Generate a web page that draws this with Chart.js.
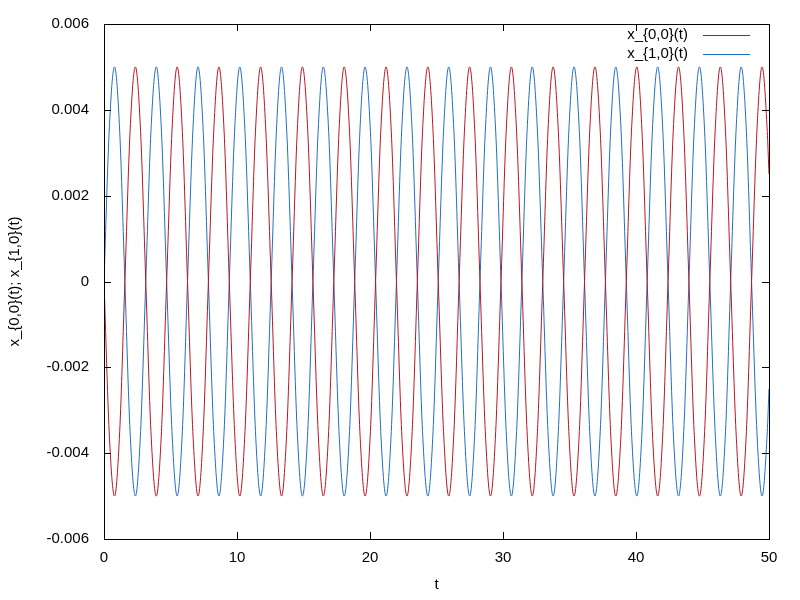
<!DOCTYPE html>
<html>
<head>
<meta charset="utf-8">
<script src="https://cdn.jsdelivr.net/npm/chart.js@4.4.0/dist/chart.umd.min.js"></script>
<style>
  html, body { margin: 0; padding: 0; background: #fff; }
  #wrap { width: 800px; height: 600px; }
</style>
</head>
<body>
<div id="wrap"><canvas id="plot" width="800" height="600"></canvas></div>
<script>
// sample times (t): zero crossings, peaks and the points between
var times = [
  0, 0.39, 0.79, 1.18, 1.57, 1.96, 2.36, 2.75,
  3.14, 3.53, 3.93, 4.32, 4.71, 5.11, 5.50, 5.89,
  6.28, 6.68, 7.07, 7.46, 7.85, 8.25, 8.64, 9.03,
  9.42, 9.82, 10.21, 10.60, 11.00, 11.39, 11.78, 12.17,
  12.57, 12.96, 13.35, 13.74, 14.14, 14.53, 14.92, 15.32,
  15.71, 16.10, 16.49, 16.89, 17.28, 17.67, 18.06, 18.46,
  18.85, 19.24, 19.63, 20.03, 20.42, 20.81, 21.21, 21.60,
  21.99, 22.38, 22.78, 23.17, 23.56, 23.95, 24.35, 24.74,
  25.13, 25.53, 25.92, 26.31, 26.70, 27.10, 27.49, 27.88,
  28.27, 28.67, 29.06, 29.45, 29.85, 30.24, 30.63, 31.02,
  31.42, 31.81, 32.20, 32.59, 32.99, 33.38, 33.77, 34.16,
  34.56, 34.95, 35.34, 35.74, 36.13, 36.52, 36.91, 37.31,
  37.70, 38.09, 38.48, 38.88, 39.27, 39.66, 40.06, 40.45,
  40.84, 41.23, 41.63, 42.02, 42.41, 42.80, 43.20, 43.59,
  43.98, 44.37, 44.77, 45.16, 45.55, 45.95, 46.34, 46.73,
  47.12, 47.52, 47.91, 48.30, 48.69, 49.09, 49.48, 49.87,
  50
];

// x_{0,0}(t), red
var x00 = [
  0, -0.0035, -0.005, -0.0035, 0, 0.0035, 0.005, 0.0035,
  0, -0.0035, -0.005, -0.0035, 0, 0.0035, 0.005, 0.0035,
  0, -0.0035, -0.005, -0.0035, 0, 0.0035, 0.005, 0.0035,
  0, -0.0035, -0.005, -0.0035, 0, 0.0035, 0.005, 0.0035,
  0, -0.0035, -0.005, -0.0035, 0, 0.0035, 0.005, 0.0035,
  0, -0.0035, -0.005, -0.0035, 0, 0.0035, 0.005, 0.0035,
  0, -0.0035, -0.005, -0.0035, 0, 0.0035, 0.005, 0.0035,
  0, -0.0035, -0.005, -0.0035, 0, 0.0035, 0.005, 0.0035,
  0, -0.0035, -0.005, -0.0035, 0, 0.0035, 0.005, 0.0035,
  0, -0.0035, -0.005, -0.0035, 0, 0.0035, 0.005, 0.0035,
  0, -0.0035, -0.005, -0.0035, 0, 0.0035, 0.005, 0.0035,
  0, -0.0035, -0.005, -0.0035, 0, 0.0035, 0.005, 0.0035,
  0, -0.0035, -0.005, -0.0035, 0, 0.0035, 0.005, 0.0035,
  0, -0.0035, -0.005, -0.0035, 0, 0.0035, 0.005, 0.0035,
  0, -0.0035, -0.005, -0.0035, 0, 0.0035, 0.005, 0.0035,
  0, -0.0035, -0.005, -0.0035, 0, 0.0035, 0.005, 0.0035,
  0.0025
];

// x_{1,0}(t), blue
var x10 = [
  0, 0.0035, 0.005, 0.0035, 0, -0.0035, -0.005, -0.0035,
  0, 0.0035, 0.005, 0.0035, 0, -0.0035, -0.005, -0.0035,
  0, 0.0035, 0.005, 0.0035, 0, -0.0035, -0.005, -0.0035,
  0, 0.0035, 0.005, 0.0035, 0, -0.0035, -0.005, -0.0035,
  0, 0.0035, 0.005, 0.0035, 0, -0.0035, -0.005, -0.0035,
  0, 0.0035, 0.005, 0.0035, 0, -0.0035, -0.005, -0.0035,
  0, 0.0035, 0.005, 0.0035, 0, -0.0035, -0.005, -0.0035,
  0, 0.0035, 0.005, 0.0035, 0, -0.0035, -0.005, -0.0035,
  0, 0.0035, 0.005, 0.0035, 0, -0.0035, -0.005, -0.0035,
  0, 0.0035, 0.005, 0.0035, 0, -0.0035, -0.005, -0.0035,
  0, 0.0035, 0.005, 0.0035, 0, -0.0035, -0.005, -0.0035,
  0, 0.0035, 0.005, 0.0035, 0, -0.0035, -0.005, -0.0035,
  0, 0.0035, 0.005, 0.0035, 0, -0.0035, -0.005, -0.0035,
  0, 0.0035, 0.005, 0.0035, 0, -0.0035, -0.005, -0.0035,
  0, 0.0035, 0.005, 0.0035, 0, -0.0035, -0.005, -0.0035,
  0, 0.0035, 0.005, 0.0035, 0, -0.0035, -0.005, -0.0035,
  -0.0025
];

var xTicks = [0, 10, 20, 30, 40, 50];
var yTicks = [-0.006, -0.004, -0.002, 0, 0.002, 0.004, 0.006];
var seriesNames = ['x_{0,0}(t)', 'x_{1,0}(t)'];
var seriesColors = ['#bb1522', '#1f6fc6'];

var FONT = '"Liberation Sans", Arial, sans-serif';

function points(ys) {
  var out = [];
  for (var i = 0; i < times.length; i++) out.push({ x: times[i], y: ys[i] });
  return out;
}

// gnuplot style frame: full box, inward ticks on all four sides, key at top right
var framePlugin = {
  id: 'frame',
  afterDraw: function (chart) {
    var ctx = chart.ctx;
    var a = chart.chartArea;
    var xs = chart.scales.x, ys = chart.scales.y;
    var tl = 7;
    ctx.save();
    ctx.strokeStyle = '#000';
    ctx.lineWidth = 1;
    ctx.strokeRect(Math.round(a.left) + 0.5, Math.round(a.top) + 0.5,
      Math.round(a.right - a.left), Math.round(a.bottom - a.top));
    ctx.beginPath();
    xTicks.forEach(function (v) {
      var px = Math.round(xs.getPixelForValue(v)) + 0.5;
      ctx.moveTo(px, a.bottom); ctx.lineTo(px, a.bottom - tl);
      ctx.moveTo(px, a.top); ctx.lineTo(px, a.top + tl);
    });
    yTicks.forEach(function (v) {
      var py = Math.round(ys.getPixelForValue(v)) + 0.5;
      ctx.moveTo(a.left, py); ctx.lineTo(a.left + tl, py);
      ctx.moveTo(a.right, py); ctx.lineTo(a.right - tl, py);
    });
    ctx.stroke();

    // key
    ctx.font = '15px ' + FONT;
    ctx.textAlign = 'right';
    ctx.textBaseline = 'middle';
    chart.data.datasets.forEach(function (ds, i) {
      var y = 35 + i * 19;
      ctx.fillStyle = '#000';
      ctx.fillText(ds.label, 688, y);
      ctx.strokeStyle = ds.borderColor;
      ctx.beginPath();
      ctx.moveTo(703, y + 0.5);
      ctx.lineTo(750, y + 0.5);
      ctx.stroke();
    });
    ctx.restore();
  }
};

new Chart(document.getElementById('plot'), {
  type: 'line',
  data: {
    datasets: [
      { label: seriesNames[0], data: points(x00), borderColor: seriesColors[0] },
      { label: seriesNames[1], data: points(x10), borderColor: seriesColors[1] }
    ]
  },
  options: {
    responsive: false,
    animation: false,
    layout: { padding: { left: 0, top: 20, right: 31, bottom: 0 } },
    elements: {
      point: { radius: 0 },
      line: { borderWidth: 1, cubicInterpolationMode: 'monotone', fill: false }
    },
    plugins: { legend: { display: false }, tooltip: { enabled: false } },
    scales: {
      x: {
        type: 'linear',
        min: 0, max: 50,
        afterFit: function (s) { s.height = 61; },
        afterBuildTicks: function (s) { s.ticks = xTicks.map(function (v) { return { value: v }; }); },
        grid: { display: false, drawTicks: false },
        border: { display: false },
        ticks: { padding: 10, color: '#000', font: { family: FONT, size: 15 }, maxRotation: 0 },
        title: { display: true, text: 't', color: '#000', font: { family: FONT, size: 15 }, padding: { top: 0, bottom: 6 } }
      },
      y: {
        type: 'linear',
        min: -0.006, max: 0.006,
        afterFit: function (s) { s.width = 104; },
        afterBuildTicks: function (s) { s.ticks = yTicks.map(function (v) { return { value: v }; }); },
        grid: { display: false, drawTicks: false },
        border: { display: false },
        ticks: {
          padding: 15, color: '#000', font: { family: FONT, size: 15 },
          callback: function (v) { return Math.abs(v) < 1e-9 ? '0' : v.toFixed(3); }
        },
        title: { display: true, text: 'x_{0,0}(t); x_{1,0}(t)', color: '#000', font: { family: FONT, size: 15 }, padding: { top: 6, bottom: 0 } }
      }
    }
  },
  plugins: [framePlugin]
});
</script>
</body>
</html>
